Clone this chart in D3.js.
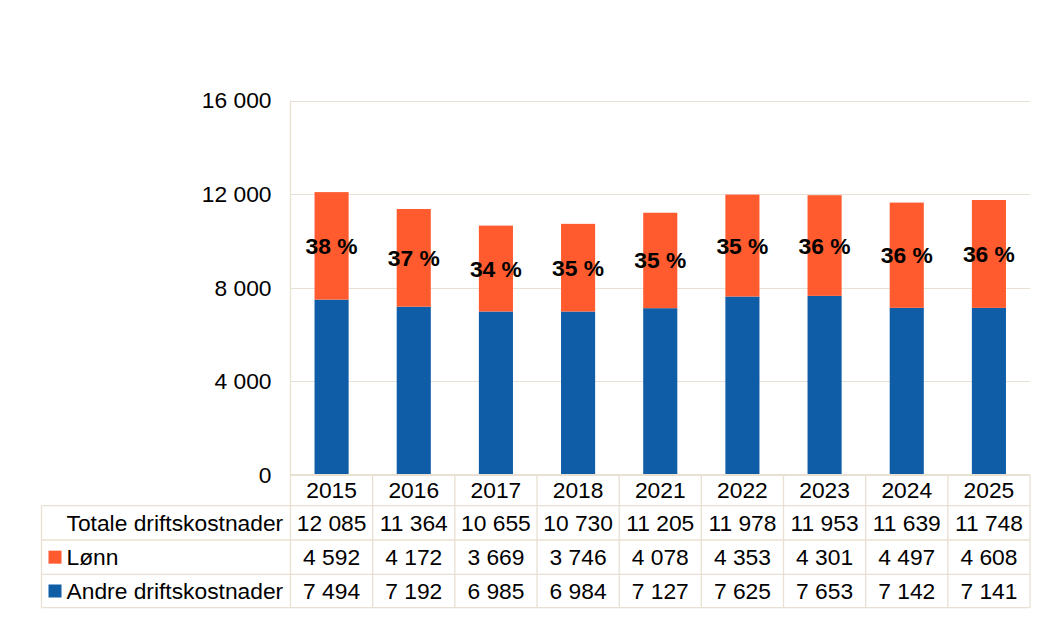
<!DOCTYPE html>
<html>
<head>
<meta charset="utf-8">
<script src="https://cdn.jsdelivr.net/npm/d3@7/dist/d3.min.js"></script>
<style>
  html, body { margin: 0; padding: 0; background: #ffffff; }
  svg { display: block; }
  text { font-family: "Liberation Sans", Arial, sans-serif; fill: #000; }
</style>
</head>
<body>
<svg id="chart" width="1059" height="626"></svg>
<script>
// ---- data ----
const years = ["2015", "2016", "2017", "2018", "2021", "2022", "2023", "2024", "2025"];
const lonn = [4592, 4172, 3669, 3746, 4078, 4353, 4301, 4497, 4608];
const andre = [7494, 7192, 6985, 6984, 7127, 7625, 7653, 7142, 7141];
const totale = [12085, 11364, 10655, 10730, 11205, 11978, 11953, 11639, 11748];
const pctLabels = ["38 %", "37 %", "34 %", "35 %", "35 %", "35 %", "36 %", "36 %", "36 %"];
const yTicks = [0, 4000, 8000, 12000, 16000];
const seriesNames = ["Totale driftskostnader", "Lønn", "Andre driftskostnader"];

// ---- settings ----
const W = 1059, H = 626;
const plotLeft = 290.5, plotRight = 1030, plotTop = 100.5, plotBottom = 475;
const tableLeft = 41.5;
const rowEdges = [475, 505.7, 540, 574.3, 607.7];
const colors = { lonn: "#FF5B2F", andre: "#0F5DA7" };
const gridColor = "#E8E0D2";
const fontSize = 22.8;

const locale = d3.formatLocale({ decimal: ",", thousands: "\u00a0", grouping: [3], currency: ["", " kr"] });
const fmt = locale.format(",d");

const svg = d3.select("#chart");

const x = d3.scaleBand().domain(years).range([plotLeft, plotRight]).padding(0);
const y = d3.scaleLinear().domain([0, 16000]).range([plotBottom, plotTop]);
const barW = x.bandwidth() * 0.415;

// gridlines
svg.append("g").selectAll("line").data(yTicks.filter(d => d > 0)).join("line")
  .attr("x1", plotLeft).attr("x2", plotRight)
  .attr("y1", d => Math.round(y(d)) + 0.5).attr("y2", d => Math.round(y(d)) + 0.5)
  .attr("stroke", gridColor).attr("stroke-width", 1);

// y axis labels
const yAxis = d3.axisLeft(y).tickValues(yTicks).tickFormat(fmt).tickSize(0).tickPadding(19);
const gy = svg.append("g").attr("transform", `translate(${plotLeft},0)`).call(yAxis);
gy.select(".domain").remove();
gy.selectAll("text").style("font-size", fontSize + "px")
  .style("font-family", '"Liberation Sans", Arial, sans-serif').attr("fill", "#000");

// stacked bars
const stackData = years.map((yr, i) => ({ year: yr, andre: andre[i], lonn: lonn[i] }));
const stack = d3.stack().keys(["andre", "lonn"]);
const series = stack(stackData);
svg.append("g").selectAll("g").data(series).join("g")
  .attr("fill", s => colors[s.key])
  .selectAll("rect").data(s => s).join("rect")
  .attr("x", d => x(d.data.year) + (x.bandwidth() - barW) / 2)
  .attr("width", barW)
  .attr("y", d => y(d[1]))
  .attr("height", d => y(d[0]) - y(d[1]));

// percentage labels at middle of Lønn segment
const lonnSeries = series[1];
svg.append("g").selectAll("text").data(lonnSeries).join("text")
  .attr("x", d => x(d.data.year) + x.bandwidth() / 2)
  .attr("y", d => y((d[0] + d[1]) / 2))
  .attr("text-anchor", "middle")
  .attr("dominant-baseline", "central")
  .style("font-size", fontSize + "px")
  .style("font-weight", "bold")
  .text((d, i) => pctLabels[i]);

// ---- data table ----
const tbl = svg.append("g");
const lineAttrs = sel => sel.attr("stroke", gridColor).attr("stroke-width", 1.3);

// header (years) row
tbl.append("line").call(lineAttrs).attr("stroke-width", 2)
  .attr("x1", plotLeft).attr("x2", plotRight).attr("y1", rowEdges[0]).attr("y2", rowEdges[0]);
// horizontal lines for data rows
[1, 2, 3, 4].forEach(k => {
  tbl.append("line").call(lineAttrs)
    .attr("x1", tableLeft).attr("x2", plotRight).attr("y1", rowEdges[k]).attr("y2", rowEdges[k]);
});
// vertical lines
tbl.append("line").call(lineAttrs).attr("x1", tableLeft).attr("x2", tableLeft)
  .attr("y1", rowEdges[1]).attr("y2", rowEdges[4]);
tbl.append("line").call(lineAttrs).attr("x1", plotLeft).attr("x2", plotLeft)
  .attr("y1", plotTop).attr("y2", rowEdges[4]);
years.forEach(yr => {
  const xr = x(yr) + x.bandwidth();
  tbl.append("line").call(lineAttrs).attr("x1", xr).attr("x2", xr)
    .attr("y1", rowEdges[0]).attr("y2", rowEdges[4]);
});

const rowMid = k => (rowEdges[k] + rowEdges[k + 1]) / 2;

// year labels
tbl.append("g").selectAll("text").data(years).join("text")
  .attr("x", d => x(d) + x.bandwidth() / 2).attr("y", rowMid(0))
  .attr("text-anchor", "middle").attr("dominant-baseline", "central")
  .style("font-size", fontSize + "px").text(d => d);

// row labels + legend keys
const rows = [
  { name: seriesNames[0], values: totale, color: null },
  { name: seriesNames[1], values: lonn, color: colors.lonn },
  { name: seriesNames[2], values: andre, color: colors.andre }
];
rows.forEach((r, k) => {
  const cy = rowMid(k + 1);
  if (r.color) {
    tbl.append("rect").attr("x", 48.5).attr("y", cy - 6.5).attr("width", 13).attr("height", 13).attr("fill", r.color);
  }
  tbl.append("text").attr("x", 66.5).attr("y", cy).attr("dominant-baseline", "central")
    .style("font-size", fontSize + "px").text(r.name);
  tbl.append("g").selectAll("text").data(r.values).join("text")
    .attr("x", (d, i) => x(years[i]) + x.bandwidth() / 2).attr("y", cy)
    .attr("text-anchor", "middle").attr("dominant-baseline", "central")
    .style("font-size", fontSize + "px").text(d => fmt(d));
});
</script>
</body>
</html>
